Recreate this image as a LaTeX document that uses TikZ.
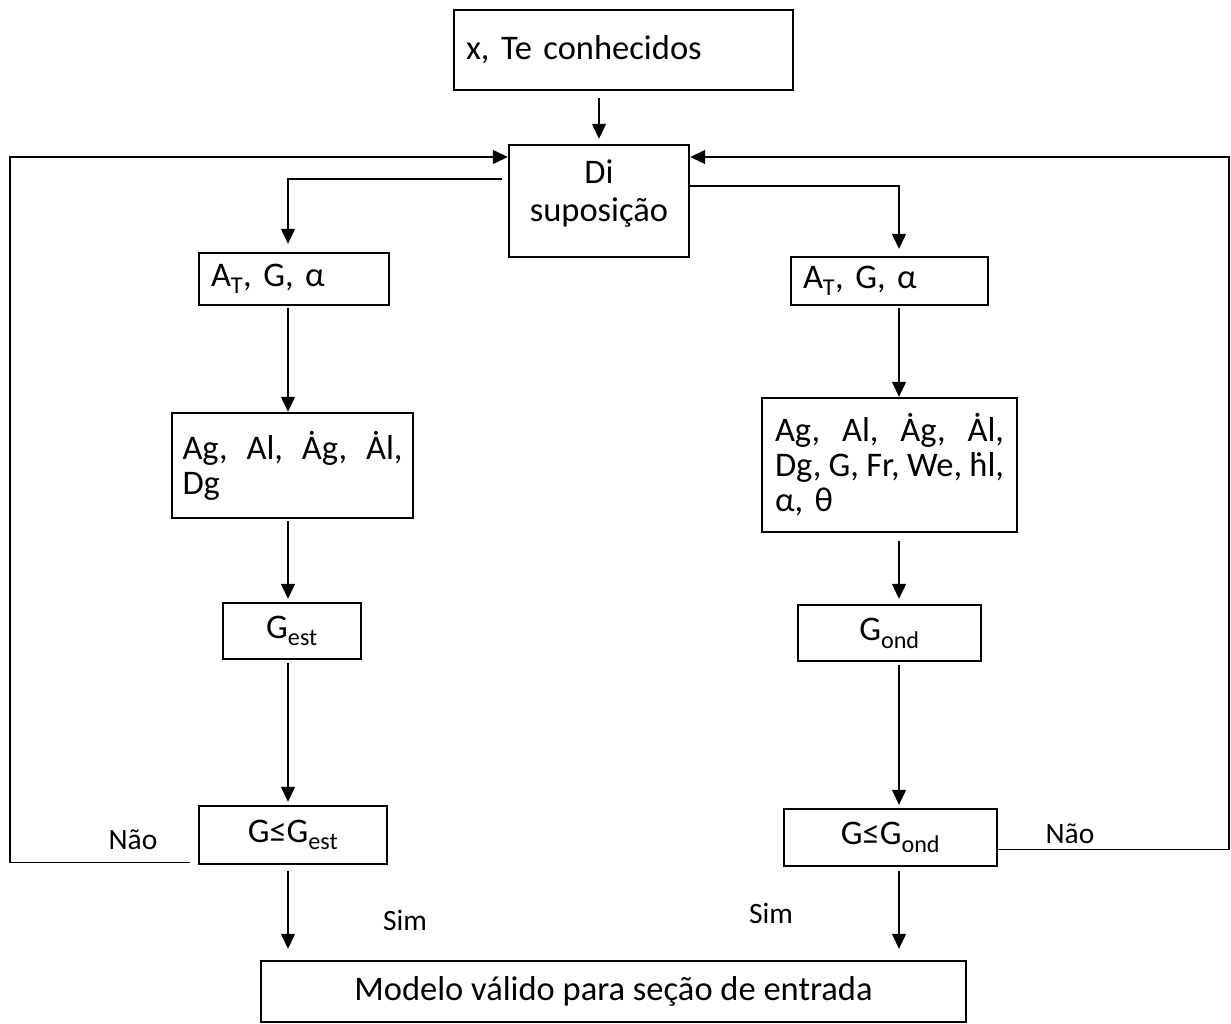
\documentclass[tikz,border=0pt]{standalone}
\usepackage{fontspec}
\setmainfont{Carlito}
\usetikzlibrary{arrows.meta, positioning, calc}
\tikzset{
  box/.style   = {rectangle, draw, line width=2.4pt, inner sep=0pt,
                  font=\fontsize{34.5}{35}\selectfont},
  boxL/.style  = {box, align=left},
  arrow/.style = {line width=1.3pt, -{Triangle[length=15pt,width=14pt]}},
  lbl/.style   = {font=\fontsize{29.5}{32}\selectfont},
}
\begin{document}
\begin{tikzpicture}[x=1pt, y=-1pt]
    \useasboundingbox (0,0) rectangle (1231,1024);

    %% Top
    \node[boxL, text width=315pt, inner xsep=12pt, minimum height=80pt] (conh) at (623.5,50) {x, Te conhecidos};
    \node[box, align=center, minimum width=180pt, minimum height=112pt, text depth=20pt,
          font=\fontsize{34.5}{38}\selectfont] (di) at (599,201) {Di\\suposição};

    %% Left column (estratificado)
    \node[boxL, text width=220pt, inner xsep=10.5pt, minimum height=105pt] (agL) at (292.5,465.5) {Ag,\hfill Al,\hfill Ȧg,\hfill Ȧl,\\Dg};
    \node[boxL, text width=166pt, inner xsep=12pt, minimum height=52pt] (atL) at (294,279) {A\textsubscript{T}, G, α};
    \node[box, minimum width=138pt, minimum height=56pt] (gest) at (292,631) {G\textsubscript{est}};
    \node[box, minimum width=188pt, minimum height=58pt] (leL)  at (293,835) {G≤G\textsubscript{est}};

    %% Right column (ondulado)
    \node[boxL, text width=173pt, inner xsep=12pt, minimum height=48pt] (atR) at (889.5,281) {A\textsubscript{T}, G, α};
    \node[boxL, text width=229pt, inner xsep=13pt, minimum height=134pt] (agR) at (889.5,465) {Ag,\hfill Al,\hfill Ȧg,\hfill Ȧl,\\Dg,\hfill G,\hfill Fr,\hfill We,\hfill ḣl,\\α, θ};
    \node[box, minimum width=183pt, minimum height=56pt] (gond) at (889.5,633) {G\textsubscript{ond}};
    \node[box, minimum width=213pt, minimum height=57pt] (leR)  at (890.5,837.5) {G≤G\textsubscript{ond}};

    %% Bottom
    \node[box, minimum width=705pt, minimum height=61pt] (fim) at (613.5,991.5) {Modelo válido para seção de entrada};

    %% Helper coordinates
    \coordinate (colL) at (288,0);
    \coordinate (colR) at (899,0);
    \coordinate (lout) at (10,157);
    \coordinate (rout) at (1229,157);
    \coordinate (nL) at ([shift={(-8,-3)}]leL.south west);
    \coordinate (nR) at ([yshift=-12pt]leR.east);

    %% Connectors
    \draw[arrow, shorten <=7pt, shorten >=5pt] (di.north |- conh.south) -- (di.north);
    \draw[arrow, shorten >=8pt] ([xshift=-6pt]di.west |- 0,179) -- (colL |- 0,179) -- (colL |- atL.north);
    \draw[arrow, shorten >=7pt] (di.east |- 0,186) -- (colR |- 0,186) -- (colR |- atR.north);

    \draw[arrow, shorten <=2pt] (colL |- atL.south) -- (colL |- agL.north);
    \draw[arrow, shorten <=2pt, shorten >=3pt] (colL |- agL.south) -- (colL |- gest.north);
    \draw[arrow, shorten <=3pt, shorten >=3pt] (colL |- gest.south) -- (colL |- leL.north);
    \draw[arrow, shorten <=6pt, shorten >=11pt] (colL |- leL.south) -- (colL |- fim.north);

    \draw[arrow, shorten <=2pt] (colR |- atR.south) -- (colR |- agR.north);
    \draw[arrow, shorten <=8pt, shorten >=5pt] (colR |- agR.south) -- (colR |- gond.north);
    \draw[arrow, shorten <=3pt, shorten >=3pt] (colR |- gond.south) -- (colR |- leR.north);
    \draw[arrow, shorten <=4pt, shorten >=11pt] (colR |- leR.south) -- (colR |- fim.north);

    %% Feedback loops
    \draw[arrow] (nL) -- (lout |- nL) -- (lout) -- (lout -| di.west);
    \draw[arrow] (nR) -- (rout |- nR) -- (rout) -- (rout -| di.east);

    %% Labels
    \node[lbl] (naoL) at (133,840) {Não};
    \node[lbl] (naoR) at (1070,834) {Não};
    \node[lbl] (simL) at (405,920) {Sim};
    \node[lbl] (simR) at (771,913) {Sim};

\end{tikzpicture}
\end{document}
